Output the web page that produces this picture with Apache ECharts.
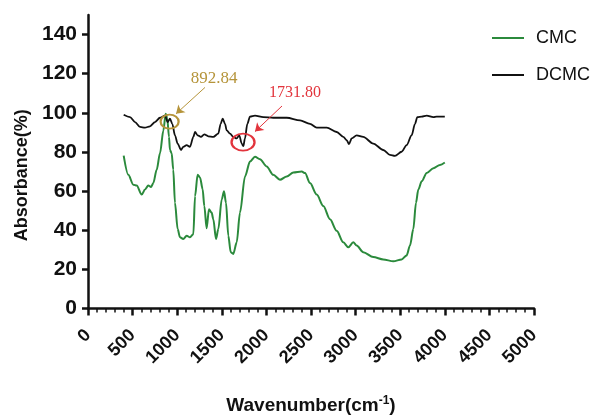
<!DOCTYPE html>
<html>
<head>
<meta charset="utf-8">
<title>FTIR CMC / DCMC</title>
<script src="https://cdn.jsdelivr.net/npm/echarts@6.0.0/dist/echarts.min.js"></script>
<style>
  html, body { margin: 0; padding: 0; background: #fff; }
  #the-chart { width: 598px; height: 420px; }
</style>
</head>
<body>
<div id="the-chart"></div>
<script>
// 数据
let cmcWave = [400, 452, 508, 546, 602, 639, 676, 706, 732, 770, 807, 845, 871, 889, 908, 919, 938, 956, 975, 1005,
  1031, 1068, 1106, 1143, 1181, 1200, 1229, 1256, 1285, 1304, 1330, 1356, 1386, 1405, 1435, 1461, 1499, 1525, 1547, 1573,
  1600, 1629, 1667, 1704, 1760, 1816, 1872, 1928, 2003, 2077, 2152, 2228, 2302, 2396, 2433, 2489, 2564, 2638, 2713, 2788,
  2862, 2918, 2974, 3012, 3086, 3198, 3310, 3423, 3516, 3572, 3610, 3647, 3677, 3703, 3741, 3797, 3872, 3946, 4000];
let cmcAbs = [78.1, 68.3, 63.3, 62.8, 58.2, 60.8, 62.8, 62.1, 64.1, 70.9, 79.3, 91, 99.5, 97, 87.7, 81, 79.3, 70.9, 54, 40.6,
  36.4, 35.5, 37.2, 36.4, 38, 57.4, 68.3, 67, 61, 52.4, 41, 50.7, 49, 45.6, 35.5, 40.6, 55.7, 59.9, 54, 37.2,
  28.8, 27.9, 33.8, 49, 67.5, 75.1, 77.6, 76.3, 72.6, 68.3, 65.8, 67.5, 69.5, 70, 69.2, 64.1, 58.2, 52.4, 45.6, 39.7,
  33.8, 31.3, 33.8, 32.2, 28.8, 26.3, 25.1, 24.1, 25.1, 27.1, 32.2, 40.6, 54, 60.8, 65, 69.2, 71.7, 73.4, 74.6];

let dcmcWave = [400, 471, 527, 583, 639, 695, 751, 807, 863, 893, 919, 945, 975, 1005, 1043, 1068, 1106, 1143, 1181, 1200,
  1229, 1266, 1304, 1349, 1405, 1461, 1487, 1510, 1536, 1555, 1592, 1629, 1667, 1696, 1723, 1741, 1760, 1786, 1816, 1872,
  1965, 2077, 2228, 2377, 2489, 2564, 2676, 2788, 2862, 2900, 2926, 2956, 3012, 3086, 3198, 3310, 3385, 3441, 3516, 3572,
  3628, 3666, 3692, 3741, 3797, 3872, 3909, 4000];
let dcmcAbs = [99, 97.8, 95.3, 92.8, 92.4, 93.1, 95.3, 97.5, 98.6, 95.3, 97, 94.4, 88.5, 84.3, 81, 82.6, 83.5, 82.6, 87.7, 90.2,
  88.5, 87.7, 89, 88, 87.7, 89.4, 94.4, 97, 94.4, 91, 89.4, 87.7, 86.9, 88.5, 84.3, 83, 86.9, 94.4, 98.1, 98.6,
  97.8, 97.5, 97.5, 96.1, 94.4, 92.4, 92.4, 90.2, 87.7, 86, 84, 86.9, 88.5, 87.7, 84.3, 81, 78.5, 78, 80.1, 83.5,
  88.5, 94.4, 97.8, 98.1, 98.6, 97.8, 98.1, 98.1];

let yTicks = [0, 20, 40, 60, 80, 100, 120, 140];

// 标注: 峰位置, 文字位置, 箭头起点/终点 (数据坐标)
let peakLabels = ["892.84", "1731.80"];
let peakCircle = [[915, 95.5], [1738, 85]];
let peakText = [[1413, 117.7], [2321, 110]];
let arrowFrom = [[1312, 113], [2175, 103.5]];
let arrowTo = [[987, 99.5], [1872, 90.4]];
let peakColors = ["#b5943a", "#e2343c"];

function zip(xs, ys) {
  return xs.map((x, i) => [x, ys[i]]);
}

let chartEL = document.getElementById("the-chart");
let myChart = echarts.init(chartEL, null, { renderer: "canvas" });

let font = "Liberation Sans, Arial, sans-serif";

let markPointData = [];
peakLabels.forEach((txt, i) => {
  markPointData.push({
    coord: peakCircle[i],
    symbol: "circle",
    symbolSize: i === 0 ? [18, 14] : [23, 17],
    itemStyle: { color: "rgba(0,0,0,0)", borderColor: peakColors[i], borderWidth: 2 },
    label: { show: false },
  });
  markPointData.push({
    coord: peakText[i],
    symbol: "circle",
    symbolSize: 1,
    itemStyle: { color: "rgba(0,0,0,0)" },
    label: {
      show: true,
      position: "inside",
      formatter: txt,
      color: peakColors[i],
      fontFamily: "Liberation Serif, Times New Roman, serif",
      fontSize: i === 0 ? 17 : 16,
    },
  });
});

let markLineData = arrowFrom.map((p, i) => [
  { coord: p, lineStyle: { color: peakColors[i], width: 1, type: "solid" } },
  { coord: arrowTo[i] },
]);

let option = {
  animation: false,
  grid: { left: 88, right: 64, top: 15, bottom: 108 },
  legend: {
    orient: "vertical",
    left: 487,
    top: 24,
    icon: "rect",
    itemWidth: 32,
    itemHeight: 2,
    itemGap: 19,
    textStyle: { fontSize: 18, fontFamily: font, color: "#111", padding: [0, 0, 0, 7] },
    data: ["CMC", "DCMC"],
  },
  xAxis: {
    type: "value",
    min: 0,
    max: 5000,
    interval: 500,
    name: "{a|Wavenumber(cm}{s|-1}{a|)}",
    nameLocation: "middle",
    nameGap: 86,
    nameTextStyle: {
      rich: {
        a: { fontSize: 19, fontWeight: "bold", fontFamily: font, color: "#111", lineHeight: 22 },
        s: { fontSize: 12, fontWeight: "bold", fontFamily: font, color: "#111", verticalAlign: "top" },
      },
    },
    axisLine: { lineStyle: { color: "#111", width: 2.5 } },
    axisTick: { length: 7, lineStyle: { width: 2.5 } },
    minorTick: { show: true, splitNumber: 5, length: 4, lineStyle: { color: "#111", width: 1.5 } },
    splitLine: { show: false },
    axisLabel: {
      rotate: 45,
      margin: 24,
      fontSize: 18,
      fontWeight: "bold",
      fontFamily: font,
      color: "#111",
      formatter: (v) => String(v),
    },
  },
  yAxis: {
    type: "value",
    min: 0,
    max: 150,
    name: "Absorbance(%)",
    nameLocation: "middle",
    nameGap: 53,
    nameTextStyle: { fontSize: 18, fontWeight: "bold", fontFamily: font, color: "#111", padding: [0, 27, 0, 0] },
    axisLine: { show: true, lineStyle: { color: "#111", width: 2.5 } },
    axisTick: { show: true, length: 6, customValues: yTicks, lineStyle: { width: 2.5 } },
    splitLine: { show: false },
    axisLabel: {
      customValues: yTicks,
      margin: 11,
      fontSize: 21,
      fontWeight: "bold",
      fontFamily: font,
      color: "#111",
    },
  },
  series: [
    {
      name: "CMC",
      type: "line",
      data: zip(cmcWave, cmcAbs),
      symbol: "none",
      smooth: 0.3,
      smoothMonotone: "x",
      lineStyle: { color: "#2b8a3c", width: 2 },
      itemStyle: { color: "#2b8a3c" },
    },
    {
      name: "DCMC",
      type: "line",
      data: zip(dcmcWave, dcmcAbs),
      symbol: "none",
      smooth: 0.3,
      smoothMonotone: "x",
      lineStyle: { color: "#111", width: 1.8 },
      itemStyle: { color: "#111" },
      markPoint: { silent: true, data: markPointData },
      markLine: {
        silent: true,
        symbol: ["none", "arrow"],
        symbolSize: 8,
        label: { show: false },
        data: markLineData,
      },
    },
  ],
};

// 画图
option && myChart.setOption(option);
</script>
</body>
</html>
